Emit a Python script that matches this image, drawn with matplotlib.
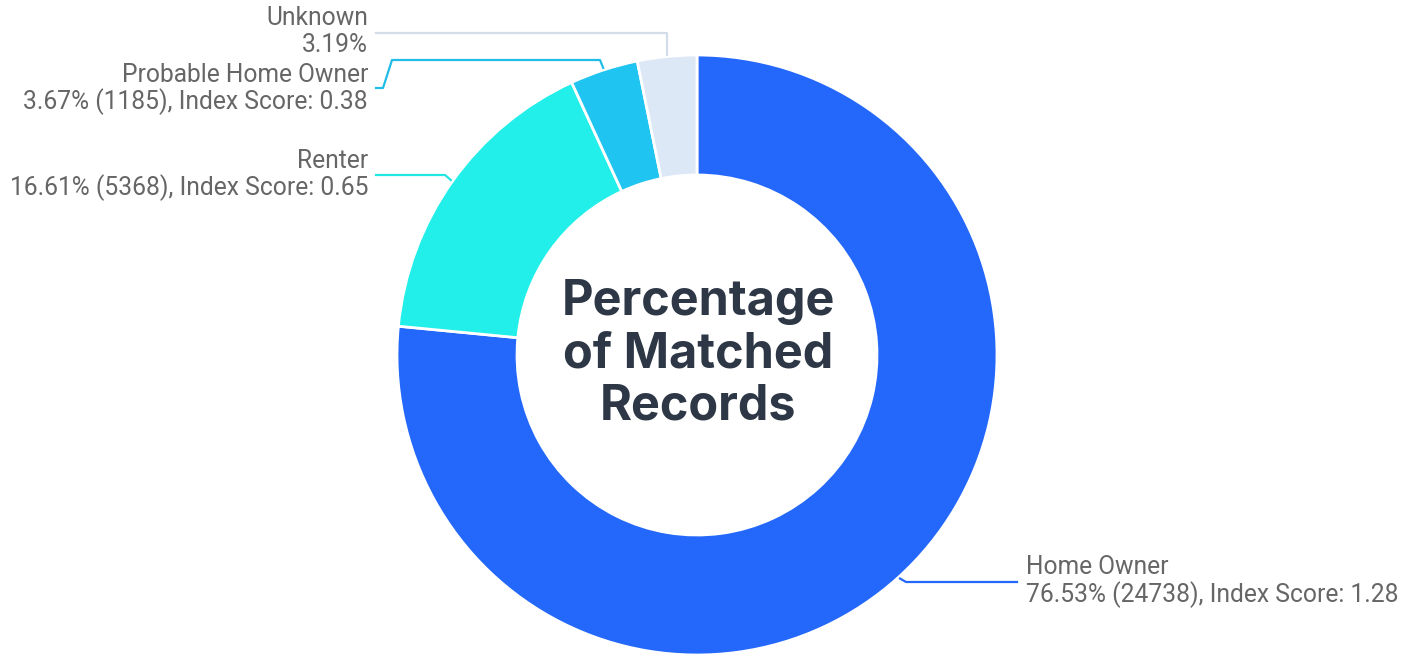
import numpy as np
import matplotlib.pyplot as plt

labels = ["Home Owner", "Renter", "Probable Home Owner", "Unknown"]
pcts = [76.53, 16.61, 3.67, 3.19]
counts = [24738, 5368, 1185, None]
scores = [1.28, 0.65, 0.38, None]
colors = ["#2468fb", "#22efe9", "#20c4f0", "#dde8f7"]
line_colors = ["#2468fb", "#22e6e2", "#20bde8", "#d3dde9"]

W, H = 1415, 655
fig = plt.figure(figsize=(W / 100, H / 100), dpi=100)
ax = fig.add_axes([0, 0, 1, 1])

cx, cy, R = 697, H - 355, 300
wedges, _ = ax.pie(pcts, colors=colors, startangle=90, counterclock=False,
                   radius=R, center=(cx, cy), frame=True,
                   wedgeprops=dict(width=120, edgecolor="white", linewidth=2))
ax.set_xlim(0, W)
ax.set_ylim(0, H)
ax.set_aspect("equal")
ax.axis("off")

def fy(py):
    return H - py

def anchor(w, r=R + 2):
    a = np.deg2rad((w.theta1 + w.theta2) / 2)
    return cx + r * np.cos(a), cy + r * np.sin(a)

# leader lines, from the slice edge out to the label
a0, a1, a2, a3 = [anchor(w) for w in wedges]
paths = [
    [a0, (a0[0] + 6, fy(582)), (1017, fy(582))],
    [a1, (445, fy(175)), (376, fy(175))],
    [a2, (600, fy(60)), (392, fy(60)), (383, fy(88)), (376, fy(88))],
    [a3, (a3[0], fy(33)), (376, fy(33))],
]
for p, c in zip(paths, line_colors):
    xs, ys = zip(*p)
    ax.plot(xs, ys, color=c, lw=1.6, solid_joinstyle="round")

tfont = dict(family="Roboto", fontsize=17.7, color="#666666", va="center")
ax.text(1026, fy(567), labels[0], ha="left", **tfont)
ax.text(1026, fy(595), f"{pcts[0]:.2f}% ({counts[0]}), Index Score: {scores[0]:.2f}", ha="left", **tfont)
ax.text(368, fy(161), labels[1], ha="right", **tfont)
ax.text(368, fy(188), f"{pcts[1]:.2f}% ({counts[1]}), Index Score: {scores[1]:.2f}", ha="right", **tfont)
ax.text(368, fy(75), labels[2], ha="right", **tfont)
ax.text(368, fy(102), f"{pcts[2]:.2f}% ({counts[2]}), Index Score: {scores[2]:.2f}", ha="right", **tfont)
ax.text(368, fy(18), labels[3], ha="right", **tfont)
ax.text(368, fy(45), f"{pcts[3]:.2f}%", ha="right", **tfont)

cfont = dict(family="Inter", fontsize=35, fontweight="bold", color="#2d3746",
             ha="center", va="center")
for txt, py in zip(["Percentage", "of Matched", "Records"], [302, 355, 406]):
    ax.text(cx + 1, fy(py), txt, **cfont)

fig.savefig("out.png", dpi=100)
